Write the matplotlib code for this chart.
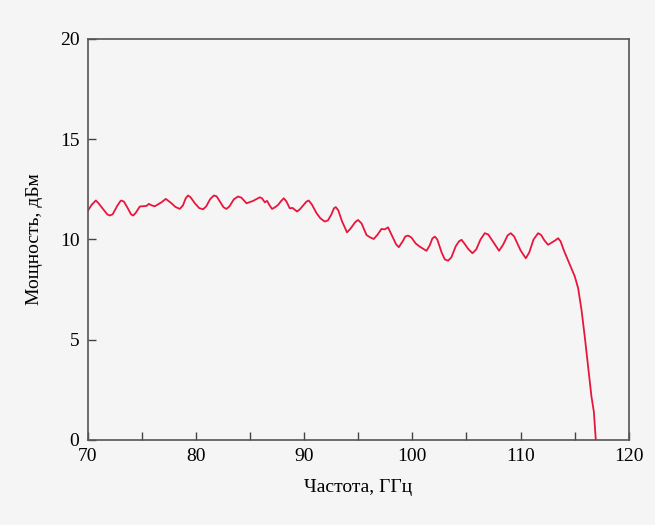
import numpy as np
import matplotlib.pyplot as plt

# частота (ГГц) и мощность (дБм)
freq = [70.0, 70.35, 70.74, 71.0, 71.11, 71.5, 71.8, 72.03, 72.3, 72.7,
        73.0, 73.11, 73.35, 73.7, 74.0, 74.19, 74.4, 74.81, 75.43, 75.64,
        75.9, 76.19, 76.5, 76.81, 77.21, 77.45, 77.74, 78.1, 78.5, 78.8,
        79.05, 79.27, 79.5, 79.9, 80.3, 80.66, 80.95, 81.3, 81.65, 81.9,
        82.2, 82.55, 82.82, 83.1, 83.5, 83.89, 84.2, 84.67, 85.28, 85.90,
        86.1, 86.36, 86.57, 86.8, 87.03, 87.3, 87.59, 87.85, 88.11, 88.35,
        88.67, 88.92, 89.34, 89.6, 89.90, 90.2, 90.42, 90.7, 91.14, 91.5,
        91.90, 92.2, 92.52, 92.75, 92.92, 93.15, 93.5, 93.96, 94.3, 94.7,
        94.98, 95.3, 95.76, 96.1, 96.43, 96.8, 97.14, 97.45, 97.75, 98.1,
        98.5, 98.74, 99.1, 99.35, 99.60, 99.9, 100.3, 100.68, 101.30, 101.6,
        101.85, 102.07, 102.3, 102.7, 103.0, 103.30, 103.6, 104.0, 104.3, 104.54,
        104.8, 105.15, 105.55, 105.9, 106.3, 106.69, 107.0, 107.5, 108.01, 108.4,
        108.8, 109.09, 109.4, 110.0, 110.48, 110.8, 111.2, 111.62, 111.9, 112.2,
        112.54, 112.9, 113.2, 113.47, 113.7, 114.0, 114.24, 114.70, 115.01, 115.32,
        115.63, 115.93, 116.24, 116.55, 116.77, 116.95]
power = [11.42, 11.72, 11.94, 11.80, 11.72, 11.45, 11.25, 11.19, 11.25, 11.65,
         11.90, 11.94, 11.88, 11.55, 11.25, 11.19, 11.30, 11.64, 11.67, 11.77,
         11.70, 11.65, 11.75, 11.85, 12.02, 11.92, 11.80, 11.62, 11.52, 11.70,
         12.05, 12.19, 12.10, 11.80, 11.56, 11.50, 11.65, 12.00, 12.19, 12.15,
         11.90, 11.60, 11.52, 11.65, 12.00, 12.14, 12.08, 11.80, 11.92, 12.10,
         12.05, 11.85, 11.92, 11.70, 11.52, 11.60, 11.72, 11.90, 12.05, 11.90,
         11.55, 11.57, 11.39, 11.50, 11.69, 11.88, 11.94, 11.75, 11.31, 11.05,
         10.89, 10.95, 11.25, 11.55, 11.61, 11.45, 10.90, 10.35, 10.55, 10.85,
         10.97, 10.80, 10.22, 10.10, 10.02, 10.25, 10.52, 10.50, 10.60, 10.20,
         9.75, 9.61, 9.90, 10.15, 10.19, 10.10, 9.80, 9.64, 9.43, 9.70,
         10.05, 10.14, 10.00, 9.35, 9.00, 8.94, 9.10, 9.65, 9.90, 9.98,
         9.80, 9.53, 9.31, 9.50, 10.00, 10.31, 10.25, 9.85, 9.43, 9.75,
         10.20, 10.31, 10.15, 9.45, 9.06, 9.35, 10.00, 10.31, 10.22, 9.95,
         9.73, 9.85, 9.95, 10.06, 9.90, 9.45, 9.14, 8.56, 8.15, 7.56,
         6.48, 5.15, 3.66, 2.16, 1.41, 0.0]

plt.rcParams['font.family'] = ['Liberation Serif', 'DejaVu Serif']

bg = '#f5f5f5'
fig, ax = plt.subplots(figsize=(6.55, 5.25), dpi=100)
fig.patch.set_facecolor(bg)
ax.set_facecolor(bg)
fig.subplots_adjust(left=0.134, right=0.960, bottom=0.162, top=0.926)

ax.plot(freq, power, c='#e8163c', lw=1.3)

ax.set_xlim(70, 120)
ax.set_ylim(0, 20)
ax.set_xticks(np.arange(70, 121, 10))
ax.set_xticks(np.arange(70, 121, 5), minor=True)
ax.set_yticks(np.arange(0, 21, 5))
ax.tick_params(which='both', direction='in', length=6, width=1, color='#444444',
               labelsize=14, pad=6)
for s in ax.spines.values():
    s.set_color('#555555')
    s.set_linewidth(1.2)

ax.set_xlabel('Частота, ГГц', fontsize=14, labelpad=10)
ax.set_ylabel('Мощность, дБм', fontsize=14, labelpad=12)

plt.savefig('out.png', dpi=100, facecolor=bg)
